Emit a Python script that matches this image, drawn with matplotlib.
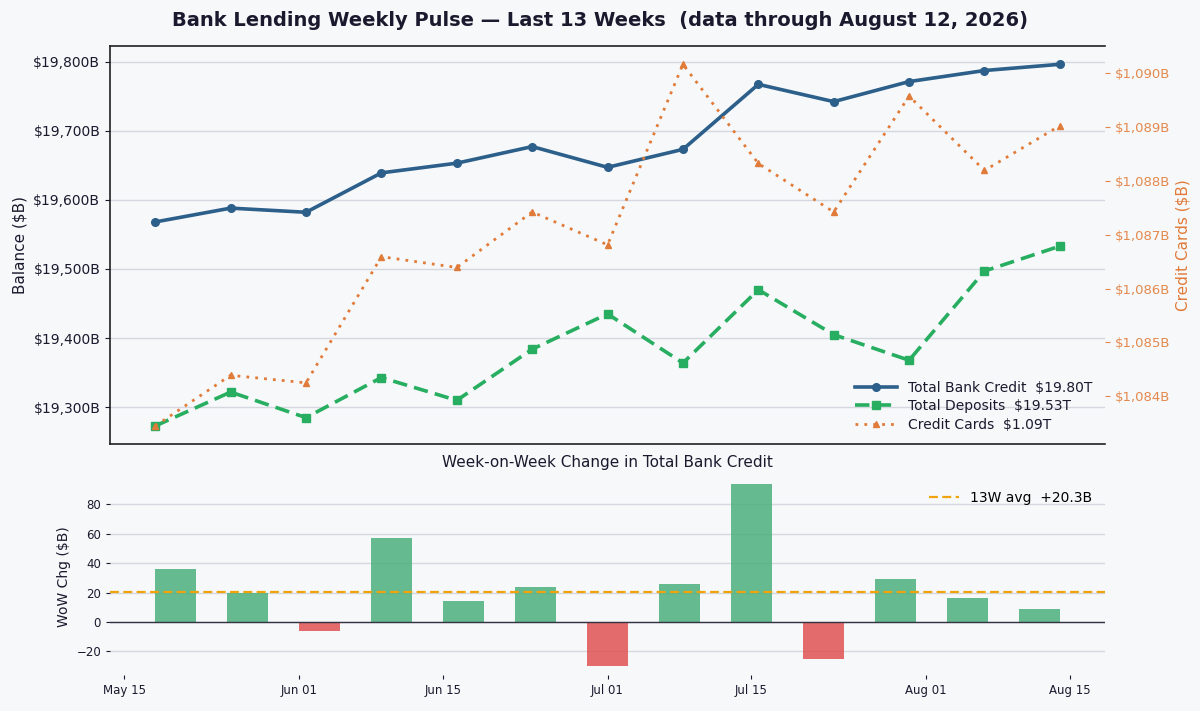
import matplotlib
matplotlib.use("Agg")
import matplotlib.pyplot as plt
import matplotlib.dates as mdates
import numpy as np
import pandas as pd

# weekly data (Wednesdays), $B
weeks = pd.to_datetime(["2026-05-20", "2026-05-27", "2026-06-03", "2026-06-10", "2026-06-17",
                        "2026-06-24", "2026-07-01", "2026-07-08", "2026-07-15", "2026-07-22",
                        "2026-07-29", "2026-08-05", "2026-08-12"])
bank_credit = [19568, 19588, 19582, 19639, 19653, 19677, 19647, 19673, 19767, 19742, 19771, 19787, 19796]
deposits = [19273, 19322, 19285, 19343, 19310, 19384, 19435, 19364, 19470, 19405, 19368, 19497, 19533]
credit_cards = [1083.45, 1084.39, 1084.25, 1086.59, 1086.39, 1087.42, 1086.81, 1090.16,
                1088.32, 1087.42, 1089.57, 1088.19, 1089.02]
wow_change = [36, 20, -6, 57, 14, 24, -30, 26, 94, -25, 29, 16, 9]

bg = '#f7f8fa'
c_credit = '#2c5f8a'
c_dep = '#27ae60'
c_cards = '#e07b39'
c_avg = '#f0a30a'
dark = '#1a1a2e'

fig = plt.figure(figsize=(12, 7.11), dpi=100, facecolor=bg)
ax1 = fig.add_axes([0.0917, 0.3755, 0.8292, 0.5595], facecolor=bg)
ax3 = fig.add_axes([0.0917, 0.0506, 0.8292, 0.277], facecolor=bg)

# top panel: balances
l1, = ax1.plot(weeks, bank_credit, color=c_credit, lw=2.6, marker='o', ms=5.5,
               label=f'Total Bank Credit  ${bank_credit[-1]/1000:.2f}T', zorder=4)
l2, = ax1.plot(weeks, deposits, color=c_dep, lw=2.6, ls=(0, (4, 2)), marker='s', ms=5.5,
               label=f'Total Deposits  ${deposits[-1]/1000:.2f}T', zorder=4)
ax1.yaxis.set_major_formatter(plt.FuncFormatter(lambda v, p: f'${v:,.0f}B'))
ax1.set_ylabel('Balance ($B)', fontsize=11, color=dark)
ax1.tick_params(axis='y', labelsize=10, colors=dark)
ax1.set_xticks([])
ax1.grid(axis='y', color='#d5d8de', lw=1)
ax1.set_axisbelow(True)
for s in ax1.spines.values():
    s.set_color('#222222')
    s.set_linewidth(1.2)
ax1.spines['right'].set_visible(False)

ax2 = ax1.twinx()
l3, = ax2.plot(weeks, credit_cards, color=c_cards, lw=2, ls=(0, (1, 2.2)), marker='^', ms=5,
               label=f'Credit Cards  ${credit_cards[-1]/1000:.2f}T', zorder=3)
ax2.yaxis.set_major_formatter(plt.FuncFormatter(lambda v, p: f'${v:,.0f}B'))
ax2.set_ylabel('Credit Cards ($B)', fontsize=11, color=c_cards)
ax2.tick_params(axis='y', labelsize=9.5, colors='#e4894d')
for s in ax2.spines.values():
    s.set_visible(False)

leg = ax1.legend(handles=[l1, l2, l3], loc='lower right', frameon=False, fontsize=10,
                 handlelength=3, labelspacing=0.3)
for t in leg.get_texts():
    t.set_color(dark)

# bottom panel: week-on-week change
bar_colors = ['#4caf7d' if v >= 0 else '#e05252' for v in wow_change]
ax3.bar(weeks, wow_change, width=4, color=bar_colors, alpha=0.85, zorder=3)
avg = np.mean(wow_change)
ax3.axhline(avg, color=c_avg, ls=(0, (4, 2)), lw=1.6, zorder=4, label=f'13W avg  {avg:+.1f}B')
ax3.axhline(0, color='#333344', lw=1, zorder=4)
ax3.set_ylim(-36.2, 98)
ax3.set_title('Week-on-Week Change in Total Bank Credit', fontsize=11, color=dark, pad=8)
ax3.set_ylabel('WoW Chg ($B)', fontsize=10, color=dark)
ax3.xaxis.set_major_locator(mdates.DayLocator(bymonthday=[1, 15]))
ax3.xaxis.set_major_formatter(mdates.DateFormatter('%b %d'))
ax3.tick_params(labelsize=8.5, colors=dark, length=3)
ax3.grid(axis='y', color='#d5d8de', lw=1)
ax3.set_axisbelow(True)
for s in ax3.spines.values():
    s.set_visible(False)
leg3 = ax3.legend(loc='upper right', frameon=False, fontsize=10, handlelength=2.2)

fig.suptitle('Bank Lending Weekly Pulse — Last 13 Weeks  (data through August 12, 2026)',
             fontsize=14, fontweight='bold', color=dark, y=0.985)

fig.savefig('out.png', dpi=100, facecolor=bg)
